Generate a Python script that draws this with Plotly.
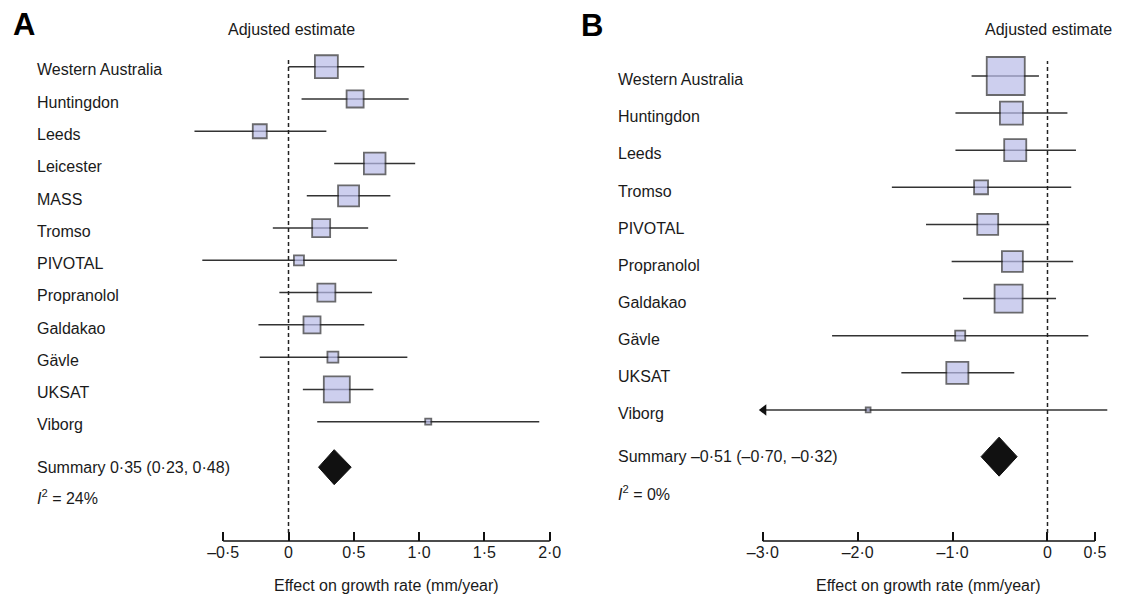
import plotly.graph_objects as go

# ---------------- data ----------------
studies_A = ["Western Australia", "Huntingdon", "Leeds", "Leicester", "MASS", "Tromso",
             "PIVOTAL", "Propranolol", "Galdakao", "Gävle", "UKSAT", "Viborg"]
est_A = [0.29, 0.51, -0.22, 0.66, 0.46, 0.25, 0.08, 0.29, 0.18, 0.34, 0.37, 1.07]
lo_A = [0.00, 0.10, -0.72, 0.35, 0.14, -0.12, -0.66, -0.07, -0.23, -0.22, 0.11, 0.22]
hi_A = [0.58, 0.92, 0.29, 0.97, 0.78, 0.61, 0.83, 0.64, 0.58, 0.91, 0.65, 1.92]
weight_A = [13.4, 7.8, 5.5, 12.0, 11.4, 8.6, 3.1, 8.6, 7.8, 3.6, 16.9, 1.4]
summary_A = (0.35, 0.23, 0.48)
i2_A = 24
ticks_A = [-0.5, 0, 0.5, 1.0, 1.5, 2.0]
ticktext_A = ["–0·5", "0", "0·5", "1·0", "1·5", "2·0"]

studies_B = ["Western Australia", "Huntingdon", "Leeds", "Tromso", "PIVOTAL",
             "Propranolol", "Galdakao", "Gävle", "UKSAT", "Viborg"]
est_B = [-0.44, -0.38, -0.34, -0.70, -0.63, -0.37, -0.41, -0.92, -0.95, -1.89]
lo_B = [-0.80, -0.97, -0.97, -1.64, -1.28, -1.01, -0.89, -2.27, -1.54, -3.60]  # Viborg off-scale
hi_B = [-0.09, 0.21, 0.30, 0.25, 0.02, 0.27, 0.09, 0.43, -0.35, 0.63]
weight_B = [27.7, 10.8, 10.0, 4.4, 9.1, 9.1, 15.6, 2.5, 10.0, 0.8]
summary_B = (-0.51, -0.70, -0.32)
i2_B = 0
ticks_B = [-3.0, -2.0, -1.0, 0, 0.5]
ticktext_B = ["–3·0", "–2·0", "–1·0", "0", "0·5"]

# ---------------- styling / layout ----------------
W, H = 1125, 595
FONT = "Liberation Sans, Arial, Helvetica, sans-serif"
FS = 16
TXT = "#1a1a1a"
BOX_FILL = "#b8bbe8"
BOX_LINE = "#2a2a2e"
CI_COL = "#333333"

def px_x(p):
    return p / W

def px_y(p):
    return 1 - p / H

axis_bottom_px, axis_top_px = 541, 40
ydom = [px_y(axis_bottom_px), px_y(axis_top_px)]

panels = [
    dict(name="A", studies=studies_A, est=est_A, lo=lo_A, hi=hi_A, w=weight_A,
         summ=summary_A, i2=i2_A, ticks=ticks_A, ticktext=ticktext_A,
         zero_px=288.5, unit_px=130.6, xr=[-0.75, 2.1], clip=None,
         row0_px=66.7, step_px=32.27, summ_row=12.41, i2_row=13.33, diamond_half_px=17.5,
         max_box=28, label_px=35, letter_px=(11, 25), head_px=291,
         dash_top_px=57, xa="x", ya="y"),
    dict(name="B", studies=studies_B, est=est_B, lo=lo_B, hi=hi_B, w=weight_B,
         summ=summary_B, i2=i2_B, ticks=ticks_B, ticktext=ticktext_B,
         zero_px=1047.5, unit_px=94.9, xr=[-3.25, 0.75], clip=-3.0,
         row0_px=76, step_px=37.1, summ_row=10.26, i2_row=11.24, diamond_half_px=19.5,
         max_box=40, label_px=616, letter_px=(579, 26), head_px=1048,
         dash_top_px=61, xa="x2", ya="y2"),
]

fig = go.Figure()
shapes, annotations = [], []
layout_axes = {}

for k, P in enumerate(panels):
    n = len(P["studies"])
    rows = list(range(n))
    xmin_axis = P["ticks"][0]
    xmax_axis = P["ticks"][-1]

    # CI lines
    cx, cy = [], []
    arrow_rows = []
    for r, lo, hi in zip(rows, P["lo"], P["hi"]):
        lo_draw = lo
        if P["clip"] is not None and lo < P["clip"]:
            lo_draw = P["clip"]
            arrow_rows.append(r)
        cx += [lo_draw, hi, None]
        cy += [r, r, None]
    fig.add_trace(go.Scatter(x=cx, y=cy, mode="lines", xaxis=P["xa"], yaxis=P["ya"],
                             line=dict(color=CI_COL, width=1.5), hoverinfo="skip",
                             showlegend=False))
    if arrow_rows:
        fig.add_trace(go.Scatter(x=[P["clip"] + 1.0 / P["unit_px"]] * len(arrow_rows),
                                 y=arrow_rows, mode="markers", xaxis=P["xa"], yaxis=P["ya"],
                                 marker=dict(symbol="triangle-left", size=10, color="#111111"),
                                 cliponaxis=False, hoverinfo="skip", showlegend=False))

    # boxes, area proportional to weight
    wmax = max(P["w"])
    sizes = [P["max_box"] * (w / wmax) ** 0.5 - 2 for w in P["w"]]
    fig.add_trace(go.Scatter(x=P["est"], y=rows, mode="markers", xaxis=P["xa"], yaxis=P["ya"],
                             marker=dict(symbol="square", size=sizes, color=BOX_FILL,
                                         line=dict(color=BOX_LINE, width=1.8)),
                             text=P["studies"], cliponaxis=False, showlegend=False,
                             hovertemplate="%{text}: %{x}<extra></extra>"))

    # summary diamond
    s_est, s_lo, s_hi = P["summ"]
    sr = P["summ_row"]
    half = P["diamond_half_px"] / P["step_px"]
    fig.add_trace(go.Scatter(x=[s_lo, s_est, s_hi, s_est, s_lo],
                             y=[sr, sr - half, sr, sr + half, sr],
                             mode="lines", fill="toself", fillcolor="#111111",
                             line=dict(color="#111111", width=1), xaxis=P["xa"], yaxis=P["ya"],
                             hoverinfo="skip", showlegend=False))

    # axes geometry
    dom = [px_x(P["zero_px"] + P["xr"][0] * P["unit_px"]),
           px_x(P["zero_px"] + P["xr"][1] * P["unit_px"])]
    yr = [(axis_bottom_px - P["row0_px"]) / P["step_px"],
          (axis_top_px - P["row0_px"]) / P["step_px"]]
    xkey = "xaxis" if k == 0 else "xaxis2"
    ykey = "yaxis" if k == 0 else "yaxis2"
    layout_axes[xkey] = dict(domain=dom, range=P["xr"], anchor=P["ya"],
                             tickvals=P["ticks"], ticktext=P["ticktext"],
                             ticks="inside", ticklen=9, tickwidth=1.5, tickcolor="#111111",
                             showline=False, showgrid=False, zeroline=False,
                             tickfont=dict(family=FONT, size=FS, color=TXT),
                             ticklabelstandoff=0)
    layout_axes[ykey] = dict(domain=ydom, range=yr, anchor=P["xa"], visible=False)

    # axis line
    shapes.append(dict(type="line", xref=P["xa"], yref="paper",
                       x0=xmin_axis, x1=xmax_axis, y0=ydom[0], y1=ydom[0],
                       line=dict(color="#111111", width=1.5)))
    # dashed zero line
    shapes.append(dict(type="line", xref=P["xa"], yref="paper", x0=0, x1=0,
                       y0=px_y(533), y1=px_y(P["dash_top_px"]),
                       line=dict(color="#222222", width=1.5, dash="4px,3px")))

    # study labels
    for r, name in zip(rows, P["studies"]):
        annotations.append(dict(text=name, xref="paper", yref=P["ya"],
                                x=px_x(P["label_px"]), y=r + 0.1, xanchor="left",
                                yanchor="middle", showarrow=False,
                                font=dict(family=FONT, size=FS, color=TXT)))
    annotations.append(dict(text=f"Summary {s_est:.2f} ({s_lo:.2f}, {s_hi:.2f})"
                            .replace(".", "·").replace("-", "–"),
                            xref="paper", yref=P["ya"], x=px_x(P["label_px"]), y=sr,
                            xanchor="left", yanchor="middle", showarrow=False,
                            font=dict(family=FONT, size=FS, color=TXT)))
    annotations.append(dict(text=f"<i>I</i><sup>2</sup> = {P['i2']}%",
                            xref="paper", yref=P["ya"], x=px_x(P["label_px"]), y=P["i2_row"],
                            xanchor="left", yanchor="middle", showarrow=False,
                            font=dict(family=FONT, size=FS, color=TXT)))
    # header
    annotations.append(dict(text="Adjusted estimate", xref="paper", yref="paper",
                            x=px_x(P["head_px"]), y=px_y(29), xanchor="center",
                            yanchor="middle", showarrow=False,
                            font=dict(family=FONT, size=FS, color=TXT)))
    # panel letter
    annotations.append(dict(text=f"<b>{P['name']}</b>", xref="paper", yref="paper",
                            x=px_x(P["letter_px"][0]), y=px_y(P["letter_px"][1]),
                            xanchor="left", yanchor="middle", showarrow=False,
                            font=dict(family=FONT, size=31, color="#000000")))
    # axis title
    annotations.append(dict(text="Effect on growth rate (mm/year)", xref="paper", yref="paper",
                            x=px_x(P["zero_px"] + (xmin_axis + xmax_axis) / 2 * P["unit_px"]),
                            y=px_y(585), xanchor="center", yanchor="middle", showarrow=False,
                            font=dict(family=FONT, size=FS, color=TXT)))

fig.update_layout(width=W, height=H, margin=dict(l=0, r=0, t=0, b=0),
                  paper_bgcolor="white", plot_bgcolor="white",
                  shapes=shapes, annotations=annotations, showlegend=False,
                  **layout_axes)

fig.write_html("out.html", config={"displayModeBar": False},
               post_script="document.body.style.margin='0';document.body.style.overflow='hidden';")
